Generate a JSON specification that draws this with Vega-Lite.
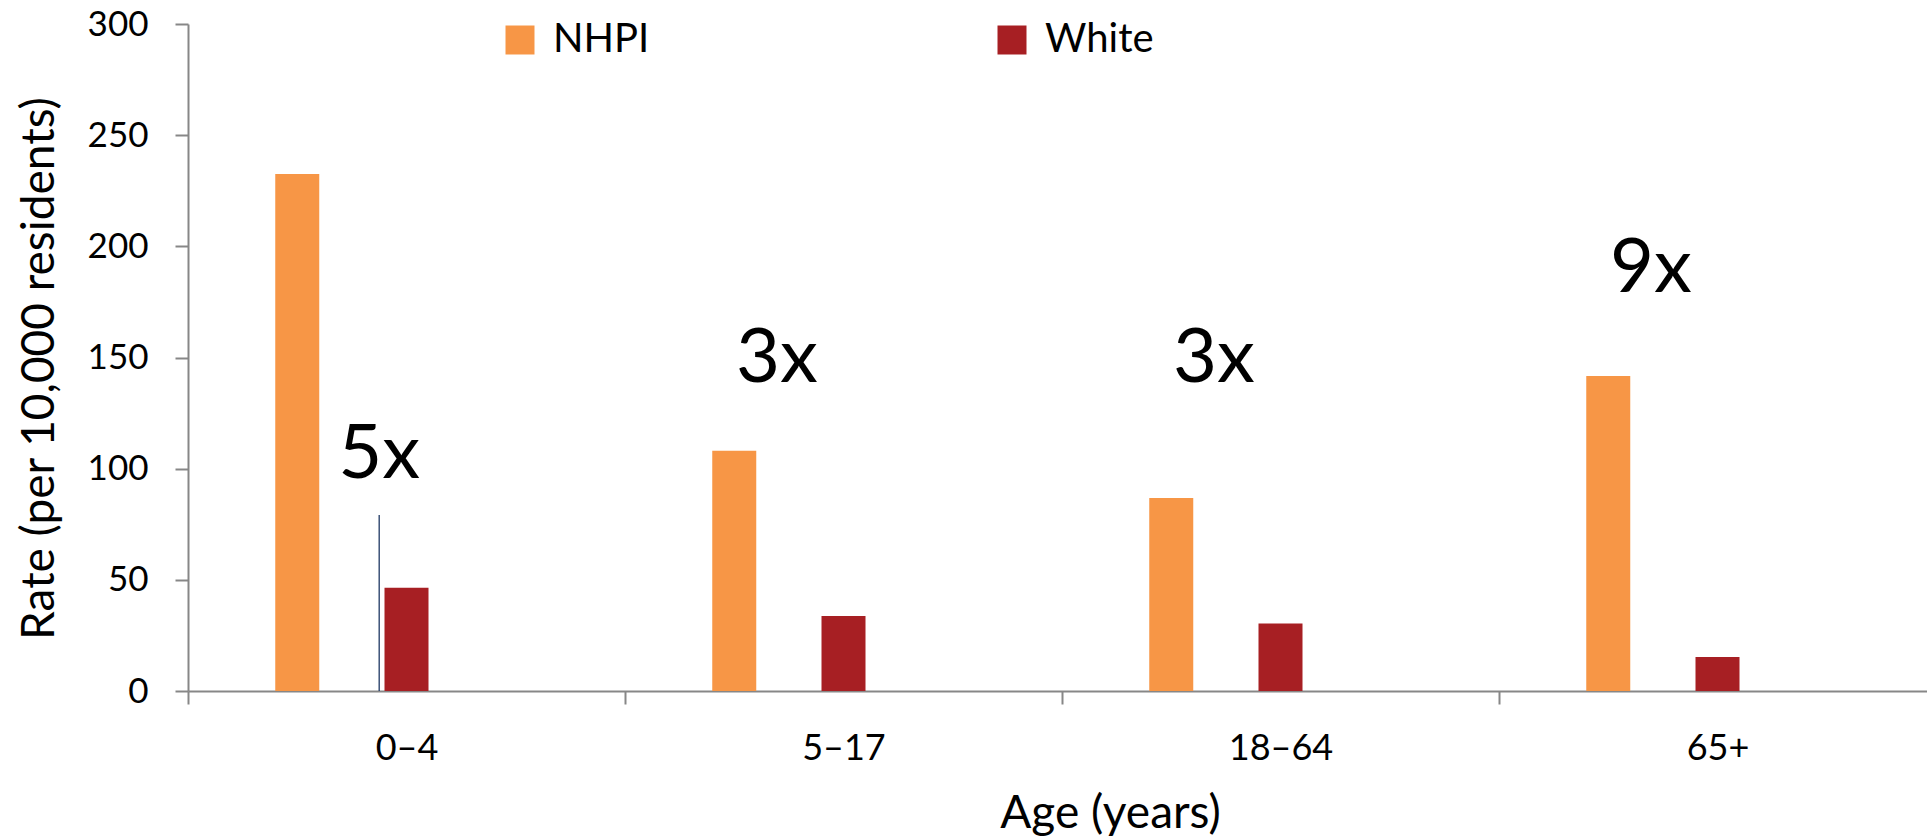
{
  "$schema": "https://vega.github.io/schema/vega-lite/v6.json",
  "width": 1739,
  "height": 667,
  "autosize": {"type": "none"},
  "padding": {"left": 188, "top": 24, "right": 0, "bottom": 146},
  "background": "white",
  "config": {
    "font": "Lato",
    "view": {"stroke": null},
    "axis": {
      "domainColor": "#878787",
      "domainWidth": 2,
      "tickColor": "#878787",
      "tickWidth": 2,
      "tickSize": 13,
      "labelColor": "#000000",
      "titleColor": "#000000",
      "titleFontWeight": "normal",
      "grid": false
    }
  },
  "datasets": {
    "bars": [
      {"age": "0–4", "group": "NHPI", "rate": 232.5},
      {"age": "0–4", "group": "White", "rate": 46.4},
      {"age": "5–17", "group": "NHPI", "rate": 108.1},
      {"age": "5–17", "group": "White", "rate": 33.7},
      {"age": "18–64", "group": "NHPI", "rate": 86.8},
      {"age": "18–64", "group": "White", "rate": 30.4},
      {"age": "65+", "group": "NHPI", "rate": 141.7},
      {"age": "65+", "group": "White", "rate": 15.3}
    ],
    "marker": [
      {"age": "0–4", "top": 79.2}
    ],
    "notes": [
      {"age": "0–4", "label": "5x", "pos": 95.7},
      {"age": "5–17", "label": "3x", "pos": 139.0},
      {"age": "18–64", "label": "3x", "pos": 139.0},
      {"age": "65+", "label": "9x", "pos": 179.6}
    ]
  },
  "layer": [
    {
      "data": {"name": "bars"},
      "mark": {"type": "bar", "width": 44},
      "encoding": {
        "x": {
          "field": "age",
          "type": "nominal",
          "sort": null,
          "scale": {"domain": ["0–4", "5–17", "18–64", "65+"], "range": [0, 1748], "paddingInner": 0, "paddingOuter": 0},
          "axis": {
            "title": "Age (years)",
            "labelAngle": 0,
            "tickBand": "extent",
            "labelFontSize": 36,
            "labelPadding": 27,
            "titleFontSize": 46,
            "titleX": 922,
            "titleY": 136,
            "titleAlign": "center",
            "titleBaseline": "alphabetic"
          }
        },
        "xOffset": {
          "field": "group",
          "type": "nominal",
          "scale": {
            "domain": ["a0", "a1", "a2", "NHPI", "k1", "k2", "k3", "White", "b0", "b1", "b2", "b3", "b4", "b5", "b6"],
            "paddingInner": 0,
            "paddingOuter": 0.5,
            "align": 0.5
          }
        },
        "y": {
          "field": "rate",
          "type": "quantitative",
          "scale": {"domain": [0, 300]},
          "axis": {
            "title": "Rate (per 10,000 residents)",
            "values": [0, 50, 100, 150, 200, 250, 300],
            "labelFontSize": 35,
            "labelPadding": 27,
            "titleFontSize": 46,
            "titleAngle": -90,
            "titleX": -135,
            "titleY": 344,
            "titleAlign": "center",
            "titleBaseline": "alphabetic"
          }
        },
        "color": {
          "field": "group",
          "type": "nominal",
          "scale": {"domain": ["NHPI", "White"], "range": ["#F79646", "#A71F23"]},
          "legend": {
            "orient": "none",
            "legendX": 312,
            "legendY": -4,
            "direction": "horizontal",
            "title": null,
            "symbolType": "square",
            "symbolSize": 841,
            "symbolStrokeWidth": 0,
            "symbolOpacity": 1,
            "labelFontSize": 40,
            "labelOffset": 13,
            "labelColor": "#000000",
            "columnPadding": 342
          }
        }
      }
    },
    {
      "data": {"name": "marker"},
      "mark": {"type": "rule", "color": "#1F3864", "strokeWidth": 1.3},
      "encoding": {
        "x": {"field": "age", "type": "nominal", "sort": null},
        "xOffset": {"datum": "k3"},
        "y": {"field": "top", "type": "quantitative"},
        "y2": {"datum": 0}
      }
    },
    {
      "data": {"name": "notes"},
      "transform": [{"filter": "datum.label === '5x'"}],
      "mark": {"type": "text", "fontSize": 76, "align": "center", "baseline": "alphabetic", "color": "#000000"},
      "encoding": {
        "x": {"field": "age", "type": "nominal", "sort": null},
        "xOffset": {"datum": "k3"},
        "y": {"field": "pos", "type": "quantitative"},
        "text": {"field": "label"}
      }
    },
    {
      "data": {"name": "notes"},
      "transform": [{"filter": "datum.label !== '5x'"}],
      "mark": {"type": "text", "fontSize": 76, "align": "center", "baseline": "alphabetic", "color": "#000000", "dx": -12},
      "encoding": {
        "x": {"field": "age", "type": "nominal", "sort": null},
        "xOffset": {"datum": "k2"},
        "y": {"field": "pos", "type": "quantitative"},
        "text": {"field": "label"}
      }
    }
  ]
}
